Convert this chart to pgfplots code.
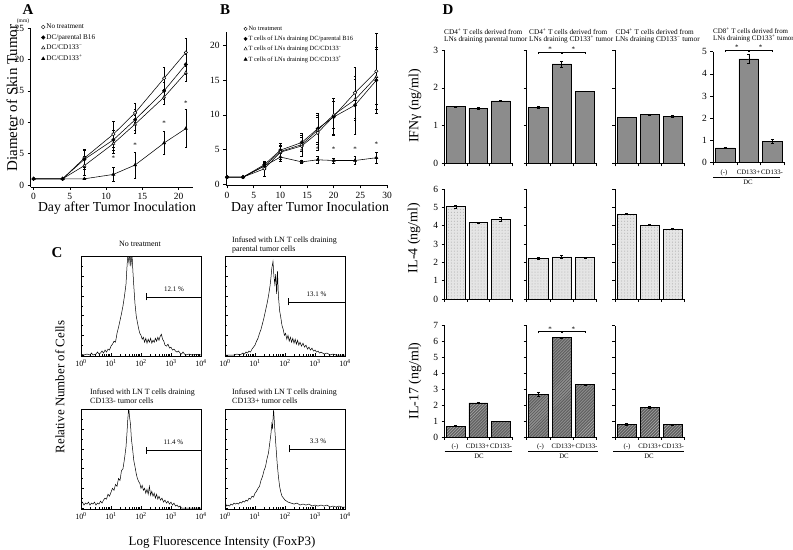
\documentclass[border=0pt]{standalone}
\usepackage{fontspec}
\setmainfont{Liberation Serif}
\usepackage{pgfplots}
\pgfplotsset{compat=1.18}
\usetikzlibrary{patterns}

\pgfplotsset{
  base/.style={scale only axis, anchor=south west, axis x line*=bottom, axis y line*=left,
    tick align=outside, axis line style={line width=0.6pt}, every tick/.style={black, line width=0.5pt},
    major tick length=3bp, /pgf/number format/assume math mode=true,
    ticklabel style={font=\fontsize{9.5}{10}\selectfont}, clip=false},
  ser/.style={black, line width=0.55pt, mark size=1.7pt,
    error bars/y dir=both, error bars/y explicit,
    error bars/error bar style={line width=0.4pt},
    error bars/error mark options={rotate=90, mark size=1.3pt, line width=0.4pt}},
  hist/.style={scale only axis, anchor=south west, width=120bp, height=99.5bp,
    xmin=0, xmax=4, ymin=-0.01, ymax=1, axis line style={line width=0.6pt}, tick pos=left, tick align=inside,
    xtick={0,1,2,3,4},
    xticklabels={10\textsuperscript{0},10\textsuperscript{1},10\textsuperscript{2},10\textsuperscript{3},10\textsuperscript{4}},
    minor xtick={0.301,0.477,0.602,0.699,0.778,0.845,0.903,0.954,1.301,1.477,1.602,1.699,1.778,1.845,1.903,1.954,2.301,2.477,2.602,2.699,2.778,2.845,2.903,2.954,3.301,3.477,3.602,3.699,3.778,3.845,3.903,3.954},
    ytick={0,0.2,0.4,0.6,0.8,1.0}, minor ytick={0.1,0.3,0.5,0.7,0.9}, yticklabels={},
    ticklabel style={font=\fontsize{8}{9}\selectfont}, major tick length=3bp, minor tick length=1.5bp,
    every tick/.style={black, line width=0.4pt}},
  hl/.style={black, line width=0.5pt},
  gate/.style={black, line width=0.6pt},
  dax/.style={base, xmin=0.5, xmax=3.5, xtick={0.5,1.5,2.5,3.5}, xticklabels={}, ymin=0, ybar, bar width=0.83, ytick distance=1},
  errb/.style={draw=black, line width=0.5pt,
    error bars/y dir=both, error bars/y explicit,
    error bars/error bar style={line width=0.5pt},
    error bars/error mark options={rotate=90, mark size=1.5pt, line width=0.5pt}},
  ifn/.style={errb, fill=black!45},
  ilf/.style={errb, fill=black!10, postaction={pattern=dots, pattern color=black!35}},
  ils/.style={errb, fill=black!62, postaction={pattern=north east lines, pattern color=black!30}},
  brk/.style={sharp plot, black, line width=0.5pt, mark=none},
}

\newcommand{\dctext}[7]{%
  \node[font=\fontsize{6.8}{7}\selectfont, anchor=base] at (#1,#6) {(-)};
  \node[font=\fontsize{6.8}{7}\selectfont, anchor=base] at (#2,#6) {CD133+};
  \node[font=\fontsize{6.8}{7}\selectfont, anchor=base] at (#3,#6) {CD133-};
  \draw[line width=0.5pt] (#4,#6-2.5) -- (#5,#6-2.5);
  \node[font=\fontsize{6.8}{7}\selectfont, anchor=base] at (#7,#6-10) {DC};
}

\begin{document}
\begin{tikzpicture}[x=1bp,y=1bp]
\path[use as bounding box] (0,0) rectangle (793,550);

% ---------------- Panel A ----------------
\node[font=\fontsize{15}{15}\bfseries\selectfont] at (28,540) {A};
\node[font=\fontsize{5.5}{6}\selectfont] at (23,529) {(mm)};
\begin{axis}[base, at={(30.7bp,363bp)}, width=162.4bp, height=159bp,
  xmin=-0.4, xmax=22, ymin=-0.3, ymax=25, xtick={0,5,10,15,20}, ytick={0,5,10,15,20,25},
  legend cell align=left,
  legend style={at={(0.065,1.035)}, anchor=north west, draw=none, fill=none,
    font=\fontsize{7.2}{7.5}\selectfont, row sep=1.5pt, inner sep=0pt, nodes={inner sep=1.3pt}}]
\addplot[mark=*, mark options={fill=white}, ser, forget plot] coordinates {
 (0,1) +- (0,0) (4,1) +- (0,0) (7,4.3) +- (0,1.4) (11,8.1) +- (0,2.0) (14,11.5) +- (0,1.5) (18,17.0) +- (0,1.8) (21,21.1) +- (0,2.2)};
\addplot[mark=*, ser, forget plot] coordinates {
 (0,1) +- (0,0) (4,1) +- (0,0) (7,4.1) +- (0,1.5) (11,7.2) +- (0,1.6) (14,10.4) +- (0,1.6) (18,15.0) +- (0,1.3) (21,19.2) +- (0,1.6)};
\addplot[mark=triangle*, mark options={fill=white}, ser, forget plot] coordinates {
 (0,1) +- (0,0) (4,1) +- (0,0) (7,3.1) +- (0,1.5) (11,6.6) +- (0,1.5) (14,9.7) +- (0,1.4) (18,14.0) +- (0,1.2) (21,17.9) +- (0,1.4)};
\addplot[mark=triangle*, ser, forget plot] coordinates {
 (0,1) +- (0,0) (4,1) +- (0,0) (7,1) +- (0,0.1) (11,1.7) +- (0,1.1) (14,3.2) +- (0,2.1) (18,6.7) +- (0,1.8) (21,9.0) +- (0,3.0)};
\addlegendimage{only marks, mark=*, mark options={fill=white}, mark size=1.8pt}
\addlegendentry{No treatment}
\addlegendimage{only marks, mark=*, mark size=1.8pt}
\addlegendentry{DC/parental B16}
\addlegendimage{only marks, mark=triangle*, mark options={fill=white}, mark size=2pt}
\addlegendentry{DC/CD133\textsuperscript{−}}
\addlegendimage{only marks, mark=triangle*, mark size=2pt}
\addlegendentry{DC/CD133\textsuperscript{+}}
\foreach \xx/\yy in {11/4.3, 14/6.4, 18/9.8, 21/13.1}{
  \edef\tmp{\noexpand\node[font=\noexpand\fontsize{7}{7}\noexpand\selectfont] at (axis cs:\xx,\yy) {*};}\tmp
}
\end{axis}
\node[rotate=90, font=\fontsize{15}{15}\selectfont] at (12,452) {Diameter of Skin Tumor};
\node[font=\fontsize{13.8}{14}\selectfont] at (117,342) {Day after Tumor Inoculation};

% ---------------- Panel B ----------------
\node[font=\fontsize{15}{15}\bfseries\selectfont] at (225,540) {B};
\begin{axis}[base, at={(226bp,364.6bp)}, width=161bp, height=153.5bp,
  xmin=-0.2, xmax=30, ymin=-0.2, ymax=22, xtick={0,5,10,15,20,25,30}, ytick={0,5,10,15,20},
  legend cell align=left,
  legend style={at={(0.11,1.048)}, anchor=north west, draw=none, fill=none,
    font=\fontsize{6.4}{7}\selectfont, row sep=1.6pt, inner sep=0pt, nodes={inner sep=1.3pt}}]
\addplot[mark=*, mark options={fill=white}, ser, forget plot] coordinates {
 (0,1) +- (0,0) (3,1) +- (0,0) (7,2.2) +- (0,1.0) (10,4.6) +- (0,1.0) (14,5.5) +- (0,1.5) (17,7.4) +- (0,2.5) (20,9.8) +- (0,2.6) (24,13.2) +- (0,3.7) (28,16.3) +- (0,5.5)};
\addplot[mark=*, ser, forget plot] coordinates {
 (0,1) +- (0,0) (3,1) +- (0,0) (7,2.8) +- (0,0.5) (10,4.9) +- (0,1.0) (14,6.0) +- (0,1.3) (17,8.0) +- (0,2.2) (20,9.7) +- (0,2.7) (24,11.4) +- (0,4.2) (28,15.0) +- (0,4.8)};
\addplot[mark=triangle*, mark options={fill=white}, ser, forget plot] coordinates {
 (0,1) +- (0,0) (3,1) +- (0,0) (7,2.6) +- (0,0.5) (10,4.7) +- (0,0.8) (14,5.7) +- (0,1.0) (17,7.8) +- (0,1.8) (20,10.0) +- (0,2.0) (24,12.2) +- (0,3.0) (28,15.5) +- (0,4.0)};
\addplot[mark=triangle*, ser, forget plot] coordinates {
 (0,1) +- (0,0) (3,1) +- (0,0) (7,2.6) +- (0,0.4) (10,3.9) +- (0,0.6) (14,3.2) +- (0,0.2) (17,3.5) +- (0,0.5) (20,3.4) +- (0,0.4) (24,3.4) +- (0,0.6) (28,3.8) +- (0,0.8)};
\addlegendimage{only marks, mark=*, mark options={fill=white}, mark size=1.7pt}
\addlegendentry{No treatment}
\addlegendimage{only marks, mark=*, mark size=1.7pt}
\addlegendentry{T cells of LNs draining DC/parental B16}
\addlegendimage{only marks, mark=triangle*, mark options={fill=white}, mark size=1.9pt}
\addlegendentry{T cells of LNs draining DC/CD133\textsuperscript{−}}
\addlegendimage{only marks, mark=triangle*, mark size=1.9pt}
\addlegendentry{T cells of LNs draining DC/CD133\textsuperscript{+}}
\foreach \xx/\yy in {14/4.8, 17/5.0, 20/5.0, 24/5.1, 28/5.8}{
  \edef\tmp{\noexpand\node[font=\noexpand\fontsize{7}{7}\noexpand\selectfont] at (axis cs:\xx,\yy) {*};}\tmp
}
\end{axis}
\node[font=\fontsize{13.8}{14}\selectfont] at (310,342) {Day after Tumor Inoculation};

% ---------------- Panel C ----------------
\node[font=\fontsize{15}{15}\bfseries\selectfont] at (57,297) {C};
\node[font=\fontsize{8}{9}\selectfont] at (140,306) {No treatment};
\node[font=\fontsize{8}{9}\selectfont, anchor=north west, align=left, inner sep=0pt] at (232,313) {Infused with LN T cells draining\\parental tumor cells};
\node[font=\fontsize{8}{9}\selectfont, anchor=north west, align=left, inner sep=0pt] at (90,161) {Infused with LN T cells draining\\CD133- tumor cells};
\node[font=\fontsize{8}{9}\selectfont, anchor=north west, align=left, inner sep=0pt] at (232,161) {Infused with LN T cells draining\\CD133+ tumor cells};

\begin{axis}[hist, at={(81bp,194bp)}]
\addplot[hl] coordinates {(0,0.01)(0.1,0.0)(0.2,0.01)(0.3,0.0)(0.35,0.02)(0.4,0.0)(0.5,0.01)(0.55,0.03)(0.6,0.01)(0.65,0.02)(0.7,0.04)(0.75,0.02)(0.8,0.05)(0.85,0.03)(0.9,0.06)(0.95,0.05)(1.0,0.09)(1.05,0.11)(1.1,0.14)(1.15,0.13)(1.2,0.22)(1.25,0.28)(1.3,0.35)(1.35,0.42)(1.4,0.5)(1.45,0.6)(1.5,0.72)(1.53,0.88)(1.56,1.02)(1.6,0.93)(1.63,1.05)(1.66,0.9)(1.7,1.02)(1.73,0.85)(1.76,0.7)(1.8,0.52)(1.84,0.4)(1.88,0.33)(1.92,0.27)(1.96,0.22)(2.0,0.2)(2.04,0.16)(2.08,0.18)(2.12,0.13)(2.16,0.17)(2.2,0.12)(2.24,0.16)(2.28,0.13)(2.32,0.17)(2.36,0.12)(2.4,0.15)(2.44,0.13)(2.48,0.17)(2.52,0.14)(2.56,0.18)(2.6,0.15)(2.64,0.19)(2.68,0.21)(2.72,0.16)(2.76,0.14)(2.8,0.1)(2.85,0.09)(2.9,0.11)(2.95,0.07)(3.0,0.08)(3.05,0.05)(3.1,0.06)(3.15,0.04)(3.2,0.03)(3.25,0.04)(3.3,0.02)(3.35,0.01)(3.4,0.03)(3.45,0.01)(3.5,0.0)(3.6,0.01)(3.7,0.0)(3.8,0.005)(4,0)};
\addplot[gate] coordinates {(2.19,0.59) (4,0.59)};
\addplot[gate] coordinates {(2.19,0.555) (2.19,0.625)};
\node[font=\fontsize{7}{8}\selectfont] at (axis cs:3.1,0.665) {12.1 \%};
\end{axis}

\begin{axis}[hist, at={(225bp,194bp)}]
\addplot[hl] coordinates {(0,0)(0.3,0)(0.4,0.01)(0.5,0)(0.6,0.02)(0.65,0.01)(0.7,0.03)(0.75,0.02)(0.8,0.04)(0.85,0.03)(0.9,0.06)(0.95,0.08)(1.0,0.1)(1.05,0.14)(1.1,0.17)(1.15,0.22)(1.2,0.26)(1.25,0.32)(1.3,0.38)(1.35,0.45)(1.4,0.52)(1.45,0.6)(1.5,0.7)(1.53,0.78)(1.56,0.88)(1.6,0.95)(1.63,0.8)(1.66,0.72)(1.69,0.82)(1.72,0.62)(1.75,0.85)(1.78,0.6)(1.82,0.45)(1.86,0.38)(1.9,0.3)(1.94,0.26)(1.98,0.2)(2.02,0.22)(2.06,0.16)(2.1,0.2)(2.14,0.14)(2.18,0.18)(2.22,0.13)(2.26,0.17)(2.3,0.12)(2.34,0.16)(2.38,0.11)(2.42,0.15)(2.46,0.1)(2.5,0.13)(2.55,0.09)(2.6,0.12)(2.65,0.08)(2.7,0.1)(2.75,0.06)(2.8,0.08)(2.85,0.05)(2.9,0.07)(2.95,0.04)(3.0,0.05)(3.05,0.03)(3.1,0.04)(3.15,0.02)(3.2,0.03)(3.3,0.01)(3.4,0.02)(3.5,0.0)(3.6,0.01)(3.7,0)(4,0)};
\addplot[gate] coordinates {(2.1,0.54) (4,0.54)};
\addplot[gate] coordinates {(2.1,0.505) (2.1,0.575)};
\node[font=\fontsize{7}{8}\selectfont] at (axis cs:3.05,0.615) {13.1 \%};
\end{axis}

\begin{axis}[hist, at={(81bp,41bp)}]
\addplot[hl] coordinates {(0,0.04)(0.05,0.06)(0.1,0.03)(0.15,0.05)(0.2,0.04)(0.25,0.06)(0.3,0.03)(0.35,0.05)(0.4,0.04)(0.45,0.06)(0.5,0.03)(0.55,0.05)(0.6,0.04)(0.65,0.07)(0.7,0.05)(0.75,0.08)(0.8,0.1)(0.85,0.09)(0.9,0.14)(0.95,0.12)(1.0,0.16)(1.05,0.2)(1.1,0.18)(1.15,0.24)(1.2,0.22)(1.25,0.3)(1.3,0.28)(1.35,0.38)(1.4,0.4)(1.45,0.5)(1.5,0.62)(1.53,0.75)(1.56,0.9)(1.59,1.02)(1.62,0.92)(1.65,0.85)(1.68,0.7)(1.72,0.6)(1.76,0.48)(1.8,0.42)(1.84,0.35)(1.88,0.3)(1.92,0.27)(1.96,0.25)(2.0,0.2)(2.04,0.23)(2.08,0.18)(2.12,0.2)(2.16,0.15)(2.2,0.19)(2.24,0.14)(2.28,0.22)(2.32,0.13)(2.36,0.17)(2.4,0.12)(2.44,0.15)(2.48,0.1)(2.52,0.14)(2.56,0.09)(2.6,0.12)(2.65,0.08)(2.7,0.1)(2.75,0.06)(2.8,0.08)(2.85,0.05)(2.9,0.07)(2.95,0.04)(3.0,0.06)(3.05,0.03)(3.1,0.05)(3.15,0.02)(3.2,0.03)(3.25,0.01)(3.3,0.02)(3.35,0)(4,0)};
\addplot[gate] coordinates {(2.16,0.585) (4,0.585)};
\addplot[gate] coordinates {(2.16,0.55) (2.16,0.62)};
\node[font=\fontsize{7}{8}\selectfont] at (axis cs:3.08,0.665) {11.4 \%};
\end{axis}

\begin{axis}[hist, at={(225bp,41bp)}]
\addplot[hl] coordinates {(0,0)(0,0.7)(0.02,0.05)(0.05,0.02)(0.1,0.03)(0.15,0.02)(0.2,0.04)(0.25,0.03)(0.3,0.05)(0.35,0.04)(0.4,0.05)(0.45,0.04)(0.5,0.06)(0.55,0.05)(0.6,0.07)(0.65,0.06)(0.7,0.08)(0.75,0.07)(0.8,0.1)(0.85,0.09)(0.9,0.12)(0.95,0.11)(1.0,0.15)(1.05,0.17)(1.1,0.2)(1.15,0.22)(1.2,0.28)(1.25,0.32)(1.3,0.38)(1.35,0.42)(1.4,0.5)(1.45,0.56)(1.5,0.68)(1.53,0.75)(1.56,0.85)(1.58,0.8)(1.6,0.9)(1.62,1.0)(1.64,0.9)(1.67,0.75)(1.7,0.62)(1.74,0.45)(1.78,0.32)(1.82,0.22)(1.86,0.16)(1.9,0.12)(1.95,0.1)(2.0,0.08)(2.05,0.07)(2.1,0.06)(2.2,0.05)(2.3,0.04)(2.4,0.05)(2.5,0.03)(2.6,0.04)(2.7,0.03)(2.8,0.04)(2.9,0.02)(3.0,0.03)(3.1,0.02)(3.2,0.03)(3.3,0.02)(3.4,0.03)(3.5,0.01)(3.6,0.02)(3.7,0.01)(3.8,0.02)(3.9,0.01)(4,0.01)};
\addplot[gate] coordinates {(2.13,0.6) (4,0.6)};
\addplot[gate] coordinates {(2.13,0.565) (2.13,0.635)};
\node[font=\fontsize{7}{8}\selectfont] at (axis cs:3.1,0.68) {3.3 \%};
\end{axis}

\node[rotate=90, font=\fontsize{13}{13}\selectfont] at (60,163) {Relative Number of Cells};
\node[font=\fontsize{13}{13}\selectfont] at (222,7.5) {Log Fluorescence Intensity (FoxP3)};

% ---------------- Panel D ----------------
\node[font=\fontsize{15}{15}\bfseries\selectfont] at (448,540) {D};
\node[font=\fontsize{7.3}{7.5}\selectfont, anchor=north west, align=left, inner sep=0pt] at (444,522) {CD4\textsuperscript{+} T cells derived from\\LNs draining parental tumor};
\node[font=\fontsize{7.3}{7.5}\selectfont, anchor=north west, align=left, inner sep=0pt] at (529,522) {CD4\textsuperscript{+} T cells derived from\\LNs draining CD133\textsuperscript{+} tumor};
\node[font=\fontsize{7.3}{7.5}\selectfont, anchor=north west, align=left, inner sep=0pt] at (615.5,522) {CD4\textsuperscript{+} T cells derived from\\LNs draining CD133\textsuperscript{−} tumor};
\node[font=\fontsize{7}{7.5}\selectfont, anchor=north west, align=left, inner sep=0pt] at (713,522.5) {CD8\textsuperscript{+} T cells derived from\\LNs draining CD133\textsuperscript{+} tumor};

\node[rotate=90, font=\fontsize{14}{14}\selectfont] at (415,444) {IFNγ (ng/ml)};
\node[rotate=90, font=\fontsize{14}{14}\selectfont] at (414,312) {IL-4 (ng/ml)};
\node[rotate=90, font=\fontsize{14}{14}\selectfont] at (415,169) {IL-17 (ng/ml)};

% Row 1: IFN-gamma
\begin{axis}[dax, at={(444.5bp,386.7bp)}, width=67.5bp, height=113.3bp, ymax=3]
\addplot[ifn] coordinates {(1,1.50) +- (0,0.01) (2,1.46) +- (0,0.02) (3,1.65) +- (0,0.01)};
\end{axis}
\begin{axis}[dax, at={(526.7bp,386.7bp)}, width=70bp, height=113.3bp, ymax=3, yticklabels={}]
\addplot[ifn] coordinates {(1,1.48) +- (0,0.03) (2,2.63) +- (0,0.08) (3,1.91) +- (0,0.01)};
\addplot[brk] coordinates {(1,2.9) (1,2.95) (1.97,2.95) (1.97,2.9)};
\addplot[brk] coordinates {(2.03,2.9) (2.03,2.95) (3,2.95) (3,2.9)};
\node[font=\fontsize{7}{7}\selectfont] at (axis cs:1.5,3.03) {*};
\node[font=\fontsize{7}{7}\selectfont] at (axis cs:2.5,3.03) {*};
\end{axis}
\begin{axis}[dax, at={(615.3bp,386.7bp)}, width=69bp, height=113.3bp, ymax=3, yticklabels={}]
\addplot[ifn] coordinates {(1,1.22) +- (0,0.01) (2,1.29) +- (0,0.02) (3,1.25) +- (0,0.03)};
\end{axis}
\begin{axis}[dax, at={(713.3bp,387.7bp)}, width=71bp, height=110.6bp, ymax=5]
\addplot[ifn] coordinates {(1,0.65) +- (0,0.03) (2,4.68) +- (0,0.2) (3,0.95) +- (0,0.07)};
\addplot[brk] coordinates {(1,4.98) (1,5.08) (1.97,5.08) (1.97,4.98)};
\addplot[brk] coordinates {(2.03,4.98) (2.03,5.08) (3,5.08) (3,4.98)};
\node[font=\fontsize{7}{7}\selectfont] at (axis cs:1.5,5.2) {*};
\node[font=\fontsize{7}{7}\selectfont] at (axis cs:2.5,5.2) {*};
\end{axis}
\dctext{724}{748.5}{772}{713}{780}{375.5}{748}

% Row 2: IL-4
\begin{axis}[dax, at={(444.5bp,251bp)}, width=67.5bp, height=110bp, ymax=6]
\addplot[ilf] coordinates {(1,5.05) +- (0,0.08) (2,4.16) +- (0,0.04) (3,4.34) +- (0,0.1)};
\end{axis}
\begin{axis}[dax, at={(526.7bp,251bp)}, width=70bp, height=110bp, ymax=6, yticklabels={}]
\addplot[ilf] coordinates {(1,2.22) +- (0,0.03) (2,2.3) +- (0,0.08) (3,2.26) +- (0,0.04)};
\end{axis}
\begin{axis}[dax, at={(615.3bp,251bp)}, width=69bp, height=110bp, ymax=6, yticklabels={}]
\addplot[ilf] coordinates {(1,4.64) +- (0,0.04) (2,4.04) +- (0,0.04) (3,3.82) +- (0,0.03)};
\end{axis}

% Row 3: IL-17
\begin{axis}[dax, at={(444.5bp,113bp)}, width=67.5bp, height=111.3bp, ymax=7]
\addplot[ils] coordinates {(1,0.69) +- (0,0.03) (2,2.15) +- (0,0.04) (3,0.99) +- (0,0.03)};
\end{axis}
\begin{axis}[dax, at={(526.7bp,113bp)}, width=70bp, height=111.3bp, ymax=7, yticklabels={}]
\addplot[ils] coordinates {(1,2.68) +- (0,0.12) (2,6.25) +- (0,0.03) (3,3.3) +- (0,0.02)};
\addplot[brk] coordinates {(1,6.52) (1,6.62) (1.97,6.62) (1.97,6.52)};
\addplot[brk] coordinates {(2.03,6.52) (2.03,6.62) (3,6.62) (3,6.52)};
\node[font=\fontsize{7}{7}\selectfont] at (axis cs:1.5,6.78) {*};
\node[font=\fontsize{7}{7}\selectfont] at (axis cs:2.5,6.78) {*};
\end{axis}
\begin{axis}[dax, at={(615.3bp,113bp)}, width=69bp, height=111.3bp, ymax=7, yticklabels={}]
\addplot[ils] coordinates {(1,0.78) +- (0,0.06) (2,1.87) +- (0,0.07) (3,0.78) +- (0,0.05)};
\end{axis}
\dctext{455}{477.5}{501}{444.5}{512}{101.5}{479}
\dctext{540.5}{563.3}{586.5}{528}{598}{101.5}{564}
\dctext{627}{650}{673}{613}{684}{101.5}{649}

\end{tikzpicture}
\end{document}
